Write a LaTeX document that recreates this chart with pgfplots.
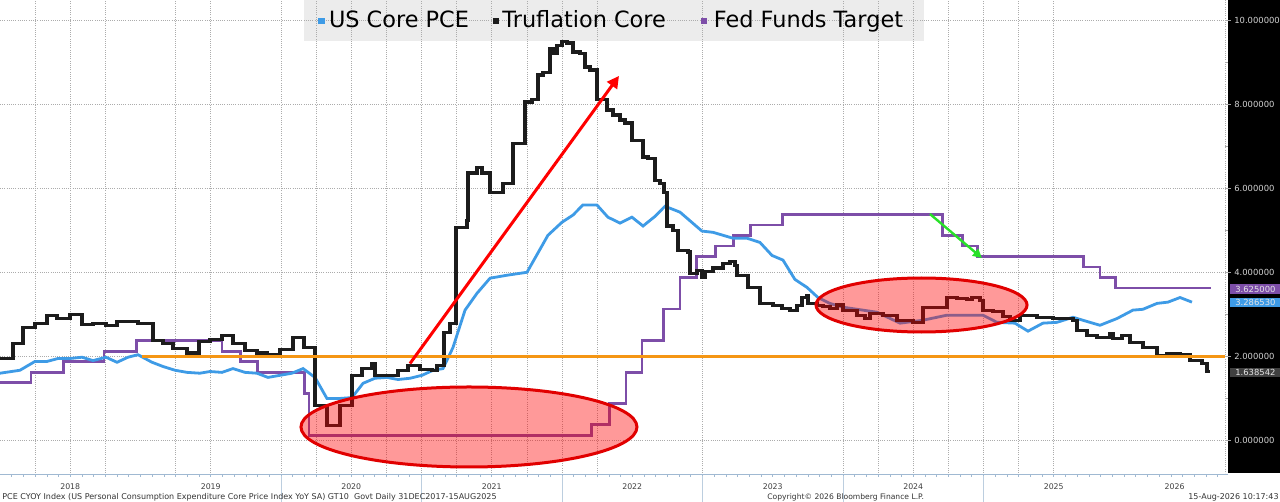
\documentclass[border=0pt]{standalone}
\usepackage{fontspec}
\setmainfont{DejaVu Sans}
\usepackage{pgfplots}
\pgfplotsset{compat=1.18}
\usetikzlibrary{arrows.meta}
\definecolor{pceblue}{RGB}{62,155,230}
\definecolor{trublack}{RGB}{28,28,28}
\definecolor{fedpurple}{RGB}{125,78,168}
\definecolor{lineorange}{RGB}{245,150,20}
\definecolor{ellred}{RGB}{225,0,0}
\definecolor{arrgreen}{RGB}{40,225,40}
\definecolor{legendgray}{RGB}{236,236,236}
\definecolor{tickblue}{RGB}{160,185,210}
\begin{document}
\begin{tikzpicture}
\useasboundingbox (0,0) rectangle (640pt,-251pt);
\fill[white] (0,0) rectangle (640pt,-251pt);
\fill[black] (614pt,0) rectangle (640pt,-236.5pt);
\fill[legendgray] (152pt,0) rectangle (462pt,-20.5pt);
\begin{axis}[
  at={(0pt,0pt)}, anchor=north west,
  scale only axis, width=612.5pt, height=236.5pt,
  xmin=2018, xmax=2026.719, ymin=-0.773, ymax=10.475,
  axis line style={draw=none},
  xtick={2018.25,2018.5,2018.75,2019.25,2019.5,2020,2020.25,2020.5,2020.75,2021,2021.25,2021.5,2021.75,2022,2022.25,2023,2024,2024.25,2024.5,2024.75,2025,2025.25,2025.5},
  xticklabels={},
  xtick pos=bottom,
  xmajorgrids=true, ymajorgrids=true,
  major grid style={line width=0.35pt, color=gray!65, dash pattern=on 0.5pt off 0.6pt},
  extra x ticks={2018.5,2019.5,2020.5,2021.5,2022.5,2023.5,2024.5,2025.5,2026.36},
  extra x tick labels={2018,2019,2020,2021,2022,2023,2024,2025,2026},
  extra x tick style={grid=none, major tick length=0pt,
     tick label style={anchor=base, yshift=-8.5pt, font=\fontsize{3.9}{4}\selectfont, text=black!75}},
  ytick={0,2,4,6,8,10},
  minor ytick={1,3,5,7,9},
  ytick pos=right,
  tick align=outside,
  x tick style={draw=none},
  y tick style={color=gray!70, line width=0.4pt},
  major tick length=3pt, minor tick length=1.5pt,
  yticklabel style={anchor=west, inner sep=0pt, xshift=1.5pt, font=\fontsize{4.2}{5}\selectfont, text=white!82!black,
     /pgf/number format/.cd, fixed, fixed zerofill, precision=6, assume math mode=true},
]
% Fed Funds Target (midpoint)
\addplot[const plot, fedpurple, line width=1.4pt] coordinates {
(2018.000,1.375) (2018.220,1.625) (2018.450,1.875) (2018.740,2.125) (2018.970,2.375)
(2019.580,2.125) (2019.710,1.875) (2019.830,1.625) (2020.170,1.125) (2020.200,0.125)
(2022.210,0.375) (2022.340,0.875) (2022.455,1.625) (2022.570,2.375) (2022.720,3.125)
(2022.840,3.875) (2022.955,4.375) (2023.090,4.625) (2023.220,4.875) (2023.340,5.125)
(2023.570,5.375) (2024.710,4.875) (2024.850,4.625) (2024.960,4.375) (2025.710,4.125)
(2025.830,3.875) (2025.940,3.625) (2026.620,3.625)};
% US Core PCE
\addplot[pceblue, line width=1.4pt] coordinates {
(2018.000,1.60) (2018.142,1.67) (2018.249,1.88) (2018.335,1.88) (2018.413,1.95)
(2018.498,1.95) (2018.584,1.98) (2018.662,1.90) (2018.754,1.98) (2018.833,1.86)
(2018.911,1.98) (2018.982,2.04) (2019.082,1.86) (2019.160,1.76) (2019.246,1.67)
(2019.331,1.62) (2019.423,1.60) (2019.495,1.64) (2019.580,1.62) (2019.658,1.71)
(2019.744,1.62) (2019.829,1.60) (2019.907,1.50) (2019.993,1.55) (2020.078,1.60)
(2020.157,1.71) (2020.242,1.50) (2020.327,1.00) (2020.420,1.00) (2020.505,1.02)
(2020.584,1.36) (2020.669,1.48) (2020.754,1.50) (2020.833,1.45) (2020.918,1.48)
(2021.004,1.55) (2021.082,1.67) (2021.153,1.71) (2021.224,2.21) (2021.310,3.10)
(2021.395,3.50) (2021.488,3.86) (2021.609,3.93) (2021.751,4.00) (2021.900,4.88)
(2022.000,5.19) (2022.078,5.36) (2022.149,5.60) (2022.249,5.60) (2022.327,5.31)
(2022.413,5.17) (2022.498,5.31) (2022.577,5.10) (2022.662,5.33) (2022.733,5.57)
(2022.840,5.43) (2022.996,4.98) (2023.075,4.95) (2023.217,4.81) (2023.317,4.81)
(2023.409,4.71) (2023.495,4.40) (2023.573,4.29) (2023.658,3.83) (2023.744,3.64)
(2023.822,3.40) (2023.907,3.26) (2024.000,3.17) (2024.242,3.05) (2024.406,2.79)
(2024.569,2.86) (2024.740,2.98) (2024.996,2.98) (2025.096,2.81) (2025.224,2.79)
(2025.317,2.60) (2025.423,2.79) (2025.523,2.81) (2025.637,2.93) (2025.737,2.83)
(2025.829,2.74) (2025.950,2.90) (2026.064,3.10) (2026.135,3.12) (2026.235,3.26)
(2026.313,3.29) (2026.399,3.40) (2026.484,3.29)};
% Truflation Core
\addplot[const plot, trublack, line width=1.6pt] coordinates {
(2018.000,1.95) (2018.093,2.31) (2018.164,2.69) (2018.249,2.79) (2018.335,2.98)
(2018.406,2.90) (2018.498,3.00) (2018.584,2.76) (2018.662,2.78) (2018.754,2.74)
(2018.833,2.83) (2018.982,2.79) (2019.089,2.38) (2019.160,2.31) (2019.231,2.18)
(2019.331,2.08) (2019.416,2.36) (2019.495,2.40) (2019.580,2.50) (2019.658,2.31)
(2019.744,2.14) (2019.829,2.08) (2019.900,2.04) (2019.993,2.17) (2020.085,2.45)
(2020.164,2.21) (2020.242,0.83) (2020.327,0.36) (2020.420,0.83) (2020.505,1.55)
(2020.577,1.71) (2020.648,1.83) (2020.669,1.55) (2020.833,1.67) (2020.904,1.79)
(2020.989,1.69) (2021.075,1.67) (2021.110,1.79) (2021.160,2.57) (2021.203,2.79)
(2021.246,5.07) (2021.324,5.24) (2021.331,6.36) (2021.395,6.50) (2021.431,6.36)
(2021.488,5.90) (2021.580,6.12) (2021.651,7.07) (2021.737,8.05) (2021.786,8.10)
(2021.829,8.69) (2021.865,8.76) (2021.915,9.33) (2021.936,9.20) (2021.964,9.40)
(2022.000,9.48) (2022.036,9.45) (2022.078,9.24) (2022.128,9.20) (2022.164,8.88)
(2022.199,8.81) (2022.249,8.10) (2022.320,7.86) (2022.363,7.74) (2022.413,7.62)
(2022.448,7.55) (2022.498,7.14) (2022.577,6.74) (2022.612,6.71) (2022.662,6.19)
(2022.698,6.12) (2022.726,5.90) (2022.747,5.10) (2022.790,5.00) (2022.826,4.52)
(2022.897,4.48) (2022.911,3.98) (2022.961,4.05) (2022.996,3.88) (2023.018,4.02)
(2023.075,4.10) (2023.146,4.21) (2023.196,4.26) (2023.231,4.17) (2023.246,3.93)
(2023.324,3.64) (2023.409,3.26) (2023.502,3.21) (2023.566,3.14) (2023.623,3.10)
(2023.673,3.21) (2023.708,3.40) (2023.744,3.45) (2023.751,3.26) (2023.815,3.21)
(2023.858,3.19) (2023.907,3.14) (2023.957,3.22) (2024.000,3.10) (2024.100,2.98)
(2024.157,2.90) (2024.192,3.02) (2024.285,2.98) (2024.384,2.86) (2024.498,2.81)
(2024.569,3.17) (2024.740,3.40) (2024.811,3.38) (2024.883,3.36) (2024.918,3.40)
(2024.975,3.33) (2024.996,3.10) (2025.068,3.07) (2025.139,2.95) (2025.189,2.86)
(2025.260,2.98) (2025.381,2.93) (2025.495,2.90) (2025.637,2.86) (2025.665,2.62)
(2025.737,2.50) (2025.808,2.45) (2025.900,2.55) (2025.922,2.43) (2025.986,2.50)
(2026.043,2.33) (2026.135,2.21) (2026.235,2.02) (2026.306,2.07) (2026.399,2.05)
(2026.470,1.90) (2026.555,1.83) (2026.591,1.64) (2026.612,1.64)};
% 2% line
\addplot[lineorange, line width=1.3pt] coordinates {(2019.010,2) (2026.719,2)};
% annotations
\draw[draw=ellred, fill=red, fill opacity=0.4, line width=1.5pt] (axis cs:2021.338,0.321) ellipse [x radius=84pt, y radius=20pt];
\draw[draw=ellred, fill=red, fill opacity=0.4, line width=1.5pt] (axis cs:2024.559,3.222) ellipse [x radius=52.75pt, y radius=13.5pt];
\draw[red, line width=1.5pt, -{Triangle[length=6pt,width=6pt]}] (axis cs:2020.918,1.83) -- (axis cs:2022.406,8.67);
\draw[arrgreen, line width=1.2pt, -{Triangle[length=4.5pt,width=4.5pt]}] (axis cs:2024.619,5.386) -- (axis cs:2024.989,4.34);
\end{axis}
% right edge of plot
\draw[line width=0.35pt, color=gray!65, dash pattern=on 0.5pt off 0.6pt] (612.5pt,0) -- (612.5pt,-236.5pt);
% bottom tick row
\draw[tickblue, line width=0.5pt] (0,-237pt) -- (614pt,-237pt);
\foreach \m in {1,...,104} \draw[tickblue, line width=0.3pt] ({5.854*\m pt},-237pt) -- ++(0,-1.5pt);
\foreach \s in {140.5,210.75,281,351.25,421.5,491.75} \draw[tickblue!70, line width=0.4pt] (\s pt,-238pt) -- (\s pt,-251pt);
% value boxes
\node[fill=fedpurple, text=white!90!black, inner sep=0pt, minimum width=25pt, minimum height=4.6pt, anchor=west, font=\fontsize{4.2}{5}\selectfont] at (615pt,-144.5pt) {3.625000};
\node[fill=pceblue, text=white!90!black, inner sep=0pt, minimum width=25pt, minimum height=4.6pt, anchor=west, font=\fontsize{4.2}{5}\selectfont] at (615pt,-151.2pt) {3.286530};
\node[fill=black!75, text=white!90!black, inner sep=0pt, minimum width=25pt, minimum height=4.6pt, anchor=west, font=\fontsize{4.2}{5}\selectfont] at (615pt,-186.2pt) {1.638542};
% legend
\fill[pceblue] (158.75pt,-9pt) rectangle (162.25pt,-12pt);
\node[anchor=base west, inner sep=0pt, font=\fontsize{11.2}{13}\selectfont] at (164.3pt,-14pt) {US Core PCE};
\fill[trublack] (246.4pt,-9pt) rectangle (249.6pt,-12pt);
\node[anchor=base west, inner sep=0pt, font=\fontsize{11.2}{13}\selectfont] at (251pt,-14pt) {Truflation Core};
\fill[fedpurple] (350.5pt,-9pt) rectangle (353.7pt,-12pt);
\node[anchor=base west, inner sep=0pt, font=\fontsize{11.2}{13}\selectfont] at (356.75pt,-14pt) {Fed Funds Target};
% footer
\node[anchor=base west, inner sep=0pt, font=\fontsize{4}{4}\selectfont, text=black!80] at (1pt,-249.6pt) {PCE CYOY Index (US Personal Consumption Expenditure Core Price Index YoY SA) GT10\ \ Govt Daily 31DEC2017-15AUG2025};
\node[anchor=base west, inner sep=0pt, font=\fontsize{3.8}{4}\selectfont, text=black!80] at (383.5pt,-249.6pt) {Copyright\textcopyright\ 2026 Bloomberg Finance L.P.};
\node[anchor=base east, inner sep=0pt, font=\fontsize{4}{4}\selectfont, text=black!80] at (639.5pt,-249.6pt) {15-Aug-2026 10:17:43};
\end{tikzpicture}
\end{document}
